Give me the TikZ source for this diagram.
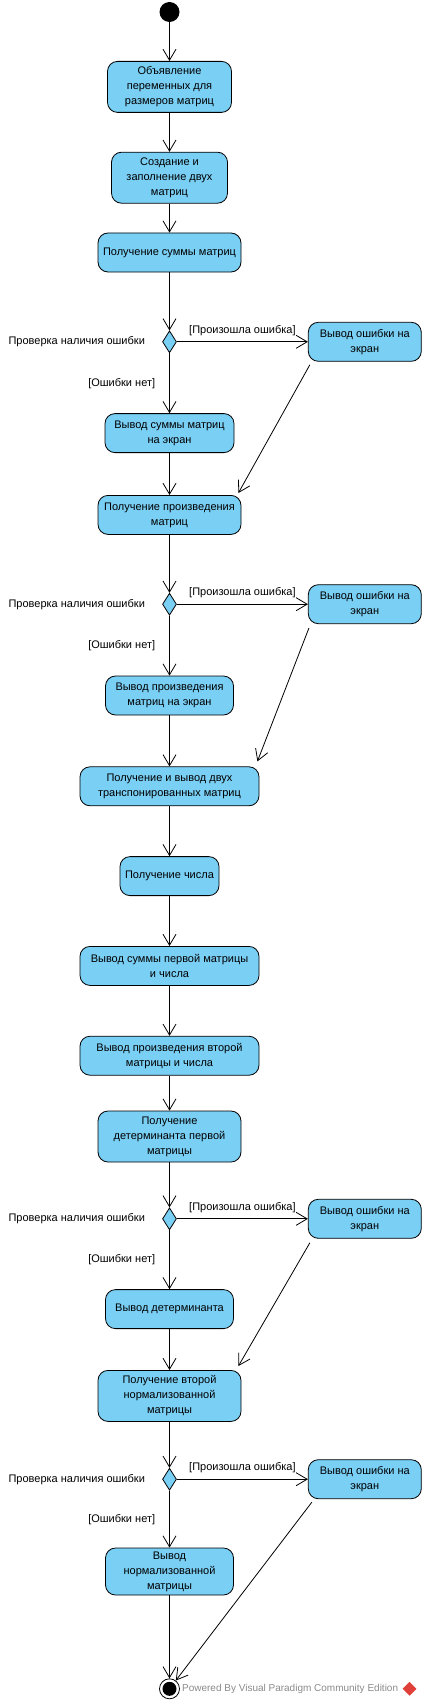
\documentclass[tikz,border=0pt]{standalone}
\usepackage{fontspec}
\setmainfont{Liberation Sans}
\usepackage{tikz}
\usetikzlibrary{shapes.geometric,arrows.meta,positioning}
\definecolor{actcol}{HTML}{7ACFF5}
\definecolor{markcol}{HTML}{8A8A8A}
\definecolor{logocol}{HTML}{E0403A}
\tikzstyle{flow} = [-{Straight Barb[length=11pt,width=13pt]},line width=0.8pt]
\tikzstyle{guard} = [font=\fontsize{11}{13}\selectfont, inner sep=2pt]
\tikzset{
  basic act/.style = {
    shape = rectangle,
    draw,
    align = center,
    line width = 0.8pt,
    font = \fontsize{11}{15}\selectfont,
    inner sep = 2pt,
    },
  act/.style = {
    basic act,
    rounded corners = 10pt,
    fill = actcol,
    minimum width = #1,
    minimum height = 39pt,
  },
  act/.default = 129pt,
  tall act/.style = {
    act = #1,
    minimum height = 51pt,
  },
  decision/.style = {
    shape = diamond,
    draw,
    fill = actcol,
    line width = 0.8pt,
    minimum width = 14pt,
    minimum height = 22pt,
    inner sep = 0pt,
  },
  startdot/.style = {circle, fill=black, minimum size=20pt, inner sep=0pt, outer sep=0pt},
  enddot/.style = {circle, draw, fill=white, line width=0.8pt, minimum size=20pt, inner sep=0pt},
}

\begin{document}
\begin{tikzpicture}[x=1pt,y=-1pt]
    \useasboundingbox (0,0) rectangle (425,1704);

    % main flow
    \node [startdot] (start) at (169.5,12) {};
    \node [tall act=124pt, below=39pt of start] (decl) {Объявление\\переменных для\\размеров матриц};
    \node [tall act=116pt, below=39pt of decl] (fill) {Создание и\\заполнение двух\\матриц};
    \node [act=143pt, below=29pt of fill] (sum) {Получение суммы матриц};
    \node [decision, below=58pt of sum] (chk1) {};
    \node [act=129pt, below=60pt of chk1] (sumout) {Вывод суммы матриц\\на экран};
    \node [act=143pt, below=42pt of sumout] (prod) {Получение произведения\\матриц};
    \node [decision, below=58pt of prod] (chk2) {};
    \node [act=128pt, below=60pt of chk2] (prodout) {Вывод произведения\\матриц на экран};
    \node [act=179pt, below=51pt of prodout] (trans) {Получение и вывод двух\\транспонированных матриц};
    \node [act=99pt, below=50pt of trans] (num) {Получение числа};
    \node [act=179pt, below=50pt of num] (sumnum) {Вывод суммы первой матрицы\\и числа};
    \node [act=179pt, below=50pt of sumnum] (prodnum) {Вывод произведения второй\\матрицы и числа};
    \node [tall act=143pt, below=35pt of prodnum] (det) {Получение\\детерминанта первой\\матрицы};
    \node [decision, below=45pt of det] (chk3) {};
    \node [act=128pt, below=59pt of chk3] (detout) {Вывод детерминанта};
    \node [tall act=143pt, below=41pt of detout] (norm) {Получение второй\\нормализованной\\матрицы};
    \node [decision, below=46pt of norm] (chk4) {};
    \node [tall act=128pt, minimum height=47pt, below=57pt of chk4] (normout) {Вывод\\нормализованной\\матрицы};
    \node [enddot, below=83pt of normout] (stop) {};
    \fill (stop.center) circle (7pt);

    % error branches
    \node [act=113pt, right=131pt of chk1] (err1) {Вывод ошибки на\\экран};
    \node [act=113pt, right=131pt of chk2] (err2) {Вывод ошибки на\\экран};
    \node [act=113pt, right=131pt of chk3] (err3) {Вывод ошибки на\\экран};
    \node [act=113pt, right=131pt of chk4] (err4) {Вывод ошибки на\\экран};

    \node [guard, left=15pt of chk1] (lbl1) {Проверка наличия ошибки};
    \node [guard, left=15pt of chk2] (lbl2) {Проверка наличия ошибки};
    \node [guard, left=15pt of chk3] (lbl3) {Проверка наличия ошибки};
    \node [guard, left=15pt of chk4] (lbl4) {Проверка наличия ошибки};

    % watermark
    \node [right=2pt of stop, text=markcol, font=\fontsize{10}{12}\selectfont, inner sep=0pt] (mark) {Powered By Visual Paradigm Community Edition};
    \node [diamond, fill=logocol, minimum size=14pt, inner sep=0pt, right=4pt of mark] (logo) {};

    % Paths
    \path[flow] (start) edge (decl);
    \path[flow] (decl) edge (fill);
    \path[flow] (fill) edge (sum);
    \path[flow] (sum) edge (chk1);
    \path[flow] (chk1) edge node[guard, above=4pt] {[Произошла ошибка]} (err1);
    \path[flow] (chk1) edge node[guard, left=12pt] {[Ошибки нет]} (sumout);
    \path[flow] (sumout) edge (prod);
    \path[flow] ([xshift=2pt,yshift=-3pt]err1.south west) edge ([xshift=-3pt,yshift=2pt]prod.north east);

    \path[flow] (prod) edge (chk2);
    \path[flow] (chk2) edge node[guard, above=4pt] {[Произошла ошибка]} (err2);
    \path[flow] (chk2) edge node[guard, left=12pt] {[Ошибки нет]} (prodout);
    \path[flow] (prodout) edge (trans);
    \path[flow] ([xshift=1pt,yshift=-4pt]err2.south west) edge ([xshift=-2pt,yshift=5pt]trans.north east);

    \path[flow] (trans) edge (num);
    \path[flow] (num) edge (sumnum);
    \path[flow] (sumnum) edge (prodnum);
    \path[flow] (prodnum) edge (det);
    \path[flow] (det) edge (chk3);
    \path[flow] (chk3) edge node[guard, above=4pt] {[Произошла ошибка]} (err3);
    \path[flow] (chk3) edge node[guard, left=12pt] {[Ошибки нет]} (detout);
    \path[flow] (detout) edge (norm);
    \path[flow] ([xshift=2pt,yshift=-4pt]err3.south west) edge ([xshift=-3pt,yshift=4pt]norm.north east);

    \path[flow] (norm) edge (chk4);
    \path[flow] (chk4) edge node[guard, above=4pt] {[Произошла ошибка]} (err4);
    \path[flow] (chk4) edge node[guard, left=12pt] {[Ошибки нет]} (normout);
    \path[flow] (normout) edge (stop);
    \path[flow] ([xshift=4pt,yshift=-3pt]err4.south west) edge (stop);
\end{tikzpicture}
\end{document}
